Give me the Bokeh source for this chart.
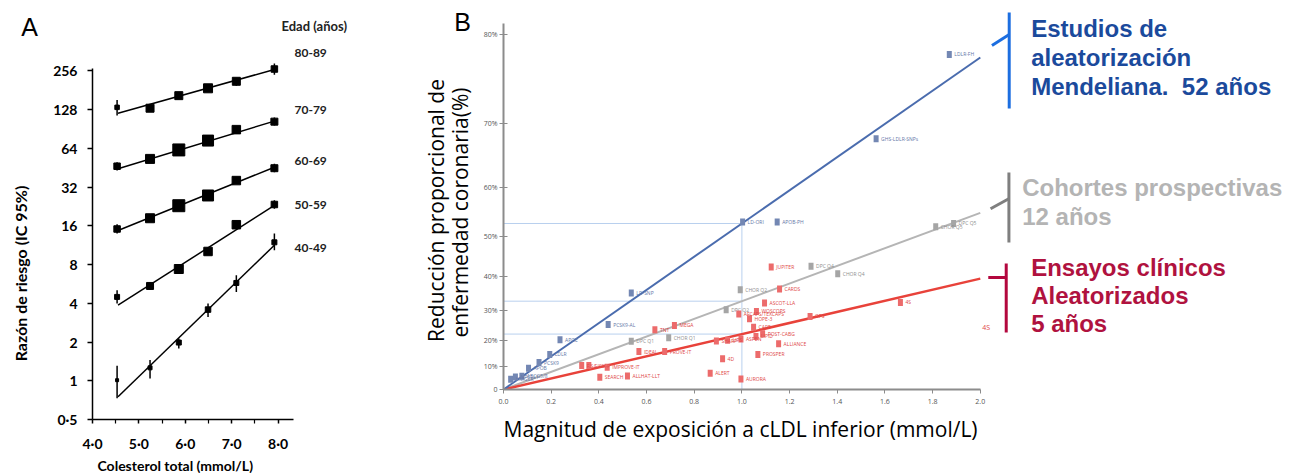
import math
import numpy as np
from bokeh.plotting import figure
from bokeh.models import Range1d, FixedTicker, CustomJSTickFormatter, Label, Title
from bokeh.layouts import row
from bokeh.core.properties import value
from bokeh.embed import file_html
from bokeh.resources import INLINE

# ---------------- Panel A data ----------------
chol_x = [4.53, 5.24, 5.86, 6.49, 7.10, 7.92]
age_groups = ["80-89", "70-79", "60-69", "50-59", "40-49"]
hr_80_89 = [133, 131, 164, 187, 212, 264]
hr_70_79 = [46.4, 52.9, 62.1, 73.4, 89.3, 103]
hr_60_69 = [15.1, 18.3, 22.9, 27.5, 35.9, 44.8]
hr_50_59 = [4.48, 5.45, 7.38, 10.1, 16.3, 23.4]
hr_40_49 = [1.01, 1.26, 1.98, 3.57, 5.75, 11.9]
lo_80_89 = [115, 126, 158, 180, 196, 238]
hi_80_89 = [152, 136, 170, 194, 225, 292]
lo_70_79 = [43.0, 50.5, 59.5, 70.5, 85.0, 96.0]
hi_70_79 = [49.8, 55.5, 65.0, 76.5, 94.0, 111]
lo_60_69 = [13.9, 17.3, 21.8, 26.2, 34.2, 41.7]
hi_60_69 = [16.4, 19.4, 24.0, 28.8, 37.7, 48.4]
lo_50_59 = [3.98, 5.10, 7.00, 9.60, 15.3, 21.7]
hi_50_59 = [5.04, 5.80, 7.80, 10.6, 17.3, 25.2]
lo_40_49 = [0.73, 1.04, 1.78, 3.13, 4.90, 10.3]
hi_40_49 = [1.31, 1.45, 2.13, 3.98, 6.59, 13.9]
w_80_89 = [0.35, 0.70, 0.70, 0.80, 0.70, 0.55]
w_70_79 = [0.55, 0.80, 1.10, 1.00, 0.75, 0.60]
w_60_69 = [0.55, 0.80, 1.10, 1.00, 0.75, 0.60]
w_50_59 = [0.40, 0.60, 0.80, 0.75, 0.75, 0.55]
w_40_49 = [0.20, 0.30, 0.40, 0.45, 0.40, 0.40]
fit_x_a = [4.55, 7.92]
fit_80_89 = [119.6, 262]
fit_70_79 = [44.3, 104]
fit_60_69 = [14.7, 45.6]
fit_50_59 = [3.86, 23.0]
fit_40_49 = [0.75, 11.3]
ya_ticks = [0.5, 1, 2, 4, 8, 16, 32, 64, 128, 256]
ya_tick_labels = ["0·5", "1", "2", "4", "8", "16", "32", "64", "128", "256"]
xa_ticks = [4, 5, 6, 7, 8]
xa_tick_labels = ["4·0", "5·0", "6·0", "7·0", "8·0"]

# ---------------- Panel B data ----------------
mr_x = [0.03, 0.05, 0.077, 0.105, 0.149, 0.194, 0.237, 0.439, 0.536, 1.003, 1.148, 1.563, 1.870]
mr_pct = [4.5, 5.5, 5.8, 9.2, 11.5, 14.7, 20.2, 25.5, 35.4, 53.2, 53.2, 67.9, 78.1]
mr_names = ["HMGCR", "NPC1L1", "ABCG5/8", "APOB", "PCSK9", "LDLR", "APOE", "PCSK9-AL",
            "LD-SNP", "LD-ORI", "APOB-PH", "GHS-LDLR-SNPs", "LDLR-FH"]
coh_x = [0.536, 0.693, 0.934, 0.993, 1.290, 1.402, 1.813, 1.888]
coh_pct = [19.6, 20.9, 30.3, 36.4, 42.8, 40.8, 52.2, 52.9]
coh_names = ["DPC Q1", "CHOR Q1", "DPC Q2", "CHOR Q2", "DPC Q4", "CHOR Q4", "CHOR Q5", "DPC Q5"]
rct_x = [0.328, 0.358, 0.404, 0.435, 0.520, 0.568, 0.635, 0.676, 0.717, 0.867, 0.893,
         0.919, 0.940, 0.987, 0.996, 0.996, 1.032, 1.049, 1.059, 1.061, 1.067, 1.087,
         1.095, 1.123, 1.154, 1.158, 1.286, 1.665]
rct_pct = [10.3, 10.3, 5.4, 9.6, 5.9, 15.8, 23.7, 15.8, 25.2, 7.1, 19.7,
           13.0, 20.0, 29.0, 20.5, 4.6, 27.4, 24.6, 21.4, 29.8, 14.7, 22.3,
           32.4, 42.6, 18.7, 36.6, 28.2, 32.6]
rct_names = ["F.S.I.", "GISSI-P", "SEARCH", "IMPROVE-IT", "ALLHAT-LLT", "IDEAL", "TNT", "PROVE-IT",
             "MEGA", "ALERT", "SHARP", "4D", "LIPS", "AFCAPS/TEXCAPS", "ASPEN", "AURORA",
             "HOPE-3", "CARE", "LIPID", "WOSCOPS", "PROSPER", "POST-CABG", "ASCOT-LLA",
             "JUPITER", "ALLIANCE", "CARDS", "GPS", "4S"]
fit_x_b = [0.0, 2.0]
mr_fit = [0.0, 77.8]
coh_fit = [0.0, 55.1]
rct_fit = [0.0, 39.5]
guide_x = 1.0
yb_tick_pct = [0, 10, 20, 30, 40, 50, 60, 70, 80]
xb_ticks = [0.0, 0.2, 0.4, 0.6, 0.8, 1.0, 1.2, 1.4, 1.6, 1.8, 2.0]


def tr(p):
    return -np.log(1.0 - np.asarray(p, dtype=float) / 100.0)


# page-pixel -> data helpers for annotation placement
def ax(px):
    return 4.0 + (px - 92.0) / 46.4


def ay(py):
    return 0.5 * 2 ** ((419.0 - py) / 38.75)


def bx(px):
    return (px - 501.0) / 239.0


def bt(py):
    return (389.0 - py) / 220.6


LOOKUP = ("const i = tv.findIndex(t => Math.abs(t - tick) < 1e-6 * Math.max(1, t));"
          " return i >= 0 ? lbl[i] : '';")

H = 473

# ================= left strip (panel letter + y title of A) =================
pl = figure(width=50, height=H, x_range=Range1d(0, 50), y_range=Range1d(H, 0),
            output_backend="svg", toolbar_location=None, frame_align=False,
            min_border_left=0, min_border_right=0, min_border_top=0, min_border_bottom=0)
pl.axis.visible = False
pl.grid.visible = False
pl.outline_line_color = None
pl.add_layout(Label(x=29, y=26, text="A", text_font="Liberation Sans",
                    text_font_size="25px", text_color="black",
                    text_align="center", text_baseline="middle"))
pl.add_layout(Label(x=20, y=273, text="Razón de riesgo (IC 95%)", text_font="Lato",
                    text_font_style="bold", text_font_size="16px", text_color="black",
                    angle=math.pi / 2, text_align="center", text_baseline="middle"))

# ================= Panel A =================
pa = figure(width=430, height=H, y_axis_type="log",
            x_range=Range1d(4.0, ax(480)),
            y_range=Range1d(0.5, ay(0)),
            output_backend="svg", toolbar_location=None, frame_align=False,
            min_border_left=42, min_border_right=0, min_border_top=0, min_border_bottom=H - 419)
pa.outline_line_color = None
pa.xgrid.visible = False
pa.ygrid.visible = False

for ax_ in (pa.xaxis[0], pa.yaxis[0]):
    ax_.axis_line_color = "black"
    ax_.axis_line_width = 1.5
    ax_.major_tick_line_color = "black"
    ax_.major_tick_line_width = 1.5
    ax_.major_tick_in = 0
    ax_.major_tick_out = 5
    ax_.major_label_text_font = "Lato"
    ax_.major_label_text_font_style = "bold"
    ax_.major_label_text_font_size = "14px"
    ax_.major_label_text_color = "black"

pa.xaxis.bounds = (4.0, 8.33)
pa.xaxis.ticker = FixedTicker(ticks=xa_ticks, minor_ticks=[4.5, 5.5, 6.5, 7.5])
pa.xaxis.minor_tick_in = 0
pa.xaxis.minor_tick_out = 4
pa.xaxis.minor_tick_line_color = "black"
pa.xaxis.minor_tick_line_width = 1.2
pa.xaxis.major_tick_out = 4
pa.xaxis.major_label_standoff = 11
pa.xaxis.formatter = CustomJSTickFormatter(args=dict(tv=xa_ticks, lbl=xa_tick_labels), code=LOOKUP)

pa.yaxis.bounds = (0.5, 265)
pa.yaxis.ticker = FixedTicker(ticks=ya_ticks, minor_ticks=[])
pa.yaxis.minor_tick_line_color = None
pa.yaxis.major_label_standoff = 10
pa.yaxis.formatter = CustomJSTickFormatter(args=dict(tv=ya_ticks, lbl=ya_tick_labels), code=LOOKUP)

groups_a = [
    (hr_80_89, lo_80_89, hi_80_89, w_80_89, fit_80_89),
    (hr_70_79, lo_70_79, hi_70_79, w_70_79, fit_70_79),
    (hr_60_69, lo_60_69, hi_60_69, w_60_69, fit_60_69),
    (hr_50_59, lo_50_59, hi_50_59, w_50_59, fit_50_59),
    (hr_40_49, lo_40_49, hi_40_49, w_40_49, fit_40_49),
]
for hr, lo, hi, w, fit in groups_a:
    pa.line(fit_x_a, fit, line_color="black", line_width=1.5)
    pa.segment(x0=chol_x, y0=lo, x1=chol_x, y1=hi, line_color="black", line_width=1.5)
    pa.scatter(chol_x, hr, marker="square", size=[10 * v + 1 for v in w],
               fill_color="black", line_color="black")

label_y_px = [52, 109, 160, 204, 247]
for name, py in zip(age_groups, label_y_px):
    pa.add_layout(Label(x=ax(294), y=ay(py), text=name, text_font="Lato",
                        text_font_style="bold", text_font_size="12px", text_color="#222222",
                        text_align="left", text_baseline="middle"))
pa.add_layout(Label(x=ax(281), y=ay(25), text="Edad (años)", text_font="Lato",
                    text_font_style="bold", text_font_size="13px", text_color="#222222",
                    text_align="left", text_baseline="middle"))
# panel B letter and its y title live in the free space at the right of panel A's frame
pa.add_layout(Label(x=ax(462), y=ay(21), text="B", text_font="Liberation Sans",
                    text_font_size="25px", text_color="black",
                    text_align="center", text_baseline="middle"))
pa.add_layout(Label(x=ax(435), y=ay(210), text="Reducción proporcional de", text_font="Open Sans",
                    text_font_size="21px", text_color="black",
                    angle=math.pi / 2, text_align="center", text_baseline="middle"))
pa.add_layout(Label(x=ax(459), y=ay(212), text="enfermedad coronaria(%)", text_font="Open Sans",
                    text_font_size="21px", text_color="black",
                    angle=math.pi / 2, text_align="center", text_baseline="middle"))
pa.add_layout(Title(text="Colesterol total (mmol/L)", align="left", offset=5, standoff=0,
                    text_font="Lato", text_font_style="bold", text_font_size="14px",
                    text_color="black"), "below")

# ================= Panel B =================
pb = figure(width=812, height=H,
            x_range=Range1d(0, bx(1292)), y_range=Range1d(0, bt(0)),
            output_backend="svg", toolbar_location=None, frame_align=False,
            min_border_left=21, min_border_right=0, min_border_top=0, min_border_bottom=H - 389)
pb.outline_line_color = None
pb.xgrid.visible = False
pb.ygrid.visible = False

for ax_ in (pb.xaxis[0], pb.yaxis[0]):
    ax_.axis_line_color = "#8c8c8c"
    ax_.axis_line_width = 2
    ax_.major_tick_line_color = "#8c8c8c"
    ax_.major_tick_line_width = 1
    ax_.minor_tick_line_color = None
    ax_.major_label_text_font = "Open Sans"
    ax_.major_label_text_font_size = "7px"
    ax_.major_label_text_color = "#555555"

pb.xaxis.bounds = (0, 2.0)
pb.xaxis.ticker = FixedTicker(ticks=xb_ticks, minor_ticks=[])
pb.xaxis.major_tick_in = 0
pb.xaxis.major_tick_out = 4
pb.xaxis.major_label_standoff = 5
pb.xaxis.formatter = CustomJSTickFormatter(code="return tick.toFixed(1);")

pb.yaxis.bounds = (0, float(tr(81)))
pb.yaxis.ticker = FixedTicker(ticks=[float(v) for v in tr(yb_tick_pct)], minor_ticks=[])
pb.yaxis.major_tick_in = 4
pb.yaxis.major_tick_out = 4
pb.yaxis.major_label_standoff = 2
pb.yaxis.formatter = CustomJSTickFormatter(
    code="const r = Math.round((1 - Math.exp(-tick)) * 100); return r === 0 ? '0' : r + '%';")

pb.add_layout(Title(text="Magnitud de exposición a cLDL inferior (mmol/L)", align="left",
                    offset=0, standoff=12, text_font="Open Sans", text_font_style="normal",
                    text_font_size="21px", text_color="black"), "below")

# guide lines at x = 1.0
guide_col = "#b9d0ee"
fits_t = [tr(mr_fit), tr(coh_fit), tr(rct_fit)]
g_vals = [float(np.interp(guide_x, fit_x_b, f)) for f in fits_t]
for gv in g_vals:
    pb.line([0, guide_x], [gv, gv], line_color=guide_col, line_width=1)
pb.line([guide_x, guide_x], [0, g_vals[0]], line_color=guide_col, line_width=1)

# fit lines
pb.line(fit_x_b, fits_t[1], line_color="#b5b5b5", line_width=2)
pb.line(fit_x_b, fits_t[2], line_color="#e8423a", line_width=2.5)
pb.line(fit_x_b, fits_t[0], line_color="#4a6cae", line_width=2)

# points + tiny labels
series_b = [
    (coh_x, coh_pct, coh_names, "#a5a5a5", "#8f8f8f"),
    (rct_x, rct_pct, rct_names, "#ec6b6b", "#e04848"),
    (mr_x, mr_pct, mr_names, "#7387b3", "#6678a8"),
]
for xs, ps, names, fc, tc in series_b:
    ts = tr(ps)
    pb.rect(x=xs, y=ts, width=5, height=7, width_units="screen", height_units="screen",
            fill_color=fc, line_color=None)
    pb.text(x=xs, y=ts, text=names, x_offset=5, text_font=value("Open Sans"),
            text_font_size="5px", text_color=tc, text_baseline="middle", text_align="left")

pb.add_layout(Label(x=bx(985), y=bt(327), text="4S", text_font="Open Sans",
                    text_font_size="7px", text_color="#e04848",
                    text_align="center", text_baseline="middle"))

# brackets on the right
brackets = [
    ("#1c6ee0", [(1008, 12), (1008, 108)], [(990.7, 45), (1008, 34)]),
    ("#7f7f7f", [(1007.7, 172), (1007.7, 242)], [(989.3, 208.3), (1008, 198)]),
    ("#b3073e", [(1005, 263), (1005, 332)], [(987, 277), (1005, 277)]),
]
for col, vseg, tseg in brackets:
    pb.line([bx(vseg[0][0]), bx(vseg[1][0])], [bt(vseg[0][1]), bt(vseg[1][1])],
            line_color=col, line_width=3)
    pb.line([bx(tseg[0][0]), bx(tseg[1][0])], [bt(tseg[0][1]), bt(tseg[1][1])],
            line_color=col, line_width=3)

ann = [
    ("#1b4a9c", 1030, [28, 57, 86], ["Estudios de", "aleatorización", "Mendeliana.\u00a0 52 años"]),
    ("#b4b4b4", 1021, [187, 216], ["Cohortes prospectivas", "12 años"]),
    ("#b0123f", 1030, [267, 295, 323], ["Ensayos clínicos", "Aleatorizados", "5 años"]),
]
for col, px, pys, lines in ann:
    for py, t in zip(pys, lines):
        pb.add_layout(Label(x=bx(px), y=bt(py), text=t, text_font="Liberation Sans",
                            text_font_style="bold", text_font_size="24px", text_color=col,
                            text_align="left", text_baseline="middle"))

layout = row(pl, pa, pb)
open("out.html", "w", encoding="utf-8").write(file_html(layout, INLINE))
